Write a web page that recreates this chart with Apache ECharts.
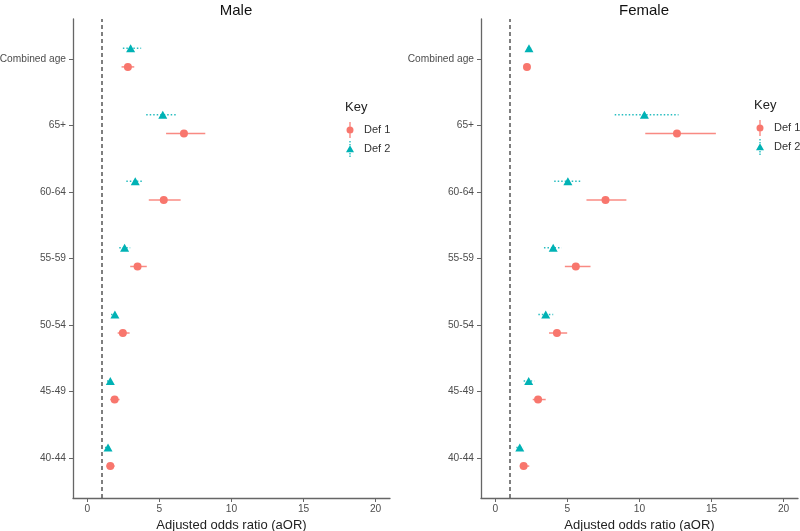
<!DOCTYPE html>
<html>
<head>
<meta charset="utf-8">
<script src="https://cdn.jsdelivr.net/npm/echarts@6/dist/echarts.min.js"></script>
<style>html,body{margin:0;padding:0;background:#fff}#c{width:800px;height:531px}</style>
</head>
<body>
<div id="c"></div>
<script>
// Categories, bottom to top
var categories = ['40-44', '45-49', '50-54', '55-59', '60-64', '65+', 'Combined age'];
var xTicks = [0, 5, 10, 15, 20];

// Male
var maleDef1 = [1.59, 1.89, 2.46, 3.48, 5.30, 6.70, 2.81];
var maleDef1Lo = [1.31, 1.59, 2.10, 2.97, 4.26, 5.46, 2.37];
var maleDef1Hi = [1.89, 2.23, 2.93, 4.12, 6.47, 8.18, 3.25];
var maleDef2 = [1.43, 1.59, 1.91, 2.58, 3.32, 5.23, 3.00];
var maleDef2Lo = [1.22, 1.36, 1.64, 2.21, 2.70, 4.08, 2.46];
var maleDef2Hi = [1.61, 1.82, 2.12, 2.97, 3.89, 6.24, 3.73];

// Female
var femaleDef1 = [1.96, 2.96, 4.27, 5.58, 7.64, 12.60, 2.19];
var femaleDef1Lo = [1.69, 2.59, 3.72, 4.82, 6.32, 10.40, 2.05];
var femaleDef1Hi = [2.35, 3.49, 4.98, 6.60, 9.09, 15.30, 2.35];
var femaleDef2 = [1.69, 2.31, 3.49, 4.01, 5.03, 10.34, 2.33];
var femaleDef2Lo = [1.45, 1.96, 2.98, 3.37, 4.08, 8.28, 2.20];
var femaleDef2Hi = [1.94, 2.70, 4.01, 4.59, 5.98, 12.71, 2.48];

var refLine = 1;

var RED = '#F8766D', TEAL = '#00B2B5';
var FONT = 'Liberation Sans, Arial, sans-serif';
var OFF1 = -0.12, OFF2 = 0.16;

function pts(vals, off) { return vals.map(function (v, i) { return [v, i + 1 + off]; }); }
function bars(lo, hi, off) { return lo.map(function (l, i) { return [l, hi[i], i + 1 + off]; }); }

function errSeries(idx, lo, hi, off, color, dashed) {
  return {
    type: 'custom', name: 'err' + idx + (dashed ? 'b' : 'a'),
    xAxisIndex: idx, yAxisIndex: idx, z: 2,
    data: bars(lo, hi, off),
    renderItem: function (params, api) {
      var a = api.coord([api.value(0), api.value(2)]);
      var b = api.coord([api.value(1), api.value(2)]);
      return {
        type: 'line',
        shape: { x1: a[0], y1: a[1], x2: b[0], y2: b[1] },
        style: { stroke: color, lineWidth: 1.5, lineDash: dashed ? [1.5, 2] : null, opacity: 0.85 }
      };
    }
  };
}

function panelSeries(idx, d1, d1lo, d1hi, d2, d2lo, d2hi) {
  return [
    errSeries(idx, d1lo, d1hi, OFF1, RED, false),
    errSeries(idx, d2lo, d2hi, OFF2, TEAL, true),
    {
      type: 'scatter', name: 'Def 1', xAxisIndex: idx, yAxisIndex: idx, z: 3,
      symbol: 'circle', symbolSize: 8, itemStyle: { color: RED, opacity: 1 },
      data: pts(d1, OFF1),
      markLine: {
        silent: true, symbol: 'none', label: { show: false },
        lineStyle: { color: '#555', type: [4, 3], width: 1.5 },
        data: [{ xAxis: refLine }]
      }
    },
    {
      type: 'scatter', name: 'Def 2', xAxisIndex: idx, yAxisIndex: idx, z: 3,
      symbol: 'triangle', symbolSize: [9, 8], itemStyle: { color: TEAL, opacity: 1 },
      data: pts(d2, OFF2)
    }
  ];
}

var TICKFS = 10.2;
function xAxis(idx) {
  return {
    type: 'value', gridIndex: idx, min: -1, max: 21,
    name: 'Adjusted odds ratio (aOR)', nameLocation: 'middle', nameGap: 20,
    nameTextStyle: { fontFamily: FONT, fontSize: 13, color: '#222' },
    splitLine: { show: false },
    axisLine: { show: true, onZero: false, lineStyle: { color: '#666', width: 1.3 } },
    axisTick: { show: true, customValues: xTicks, length: 4, lineStyle: { color: '#666' } },
    axisLabel: { customValues: xTicks, margin: 6, fontFamily: FONT, fontSize: TICKFS, color: '#4d4d4d' }
  };
}
var yVals = categories.map(function (c, i) { return i + 1; });
function yAxis(idx) {
  return {
    type: 'value', gridIndex: idx, min: 0.4, max: 7.6,
    splitLine: { show: false },
    axisLine: { show: true, onZero: false, lineStyle: { color: '#666', width: 1.3 } },
    axisTick: { show: true, customValues: yVals, length: 4, lineStyle: { color: '#666' } },
    axisLabel: {
      customValues: yVals, margin: 7, fontFamily: FONT, fontSize: TICKFS, color: '#4d4d4d',
      formatter: function (v) { return categories[Math.round(v) - 1] || ''; }
    }
  };
}

var redIcon = 'path://M3.4,0 h1.2 v4.5 h-1.2 z M3.4,11.5 h1.2 v4.5 h-1.2 z M0.5,8 a3.5,3.5 0 1,0 7,0 a3.5,3.5 0 1,0 -7,0 z';
var tealIcon = 'path://M3.4,0 h1.2 v1.5 h-1.2 z M3.4,3 h1.2 v1.2 h-1.2 z M3.4,12 h1.2 v1.5 h-1.2 z M3.4,14.5 h1.2 v1.5 h-1.2 z M4,4.3 L8,11.3 L0,11.3 z';

function legend(left, top) {
  return {
    left: left, top: top, orient: 'vertical', itemWidth: 18, itemHeight: 16, itemGap: 3,
    symbolKeepAspect: true, selectedMode: false,
    textStyle: { fontFamily: FONT, fontSize: 11, color: '#333' },
    data: [{ name: 'Def 1', icon: redIcon }, { name: 'Def 2', icon: tealIcon }]
  };
}

var chart = echarts.init(document.getElementById('c'), null, { renderer: 'canvas' });
chart.setOption({
  animation: false,
  backgroundColor: '#fff',
  title: [
    { text: 'Male', left: 231, top: -2, textAlign: 'center', textStyle: { fontFamily: FONT, fontSize: 15, fontWeight: 'normal', color: '#111' } },
    { text: 'Female', left: 639, top: -2, textAlign: 'center', textStyle: { fontFamily: FONT, fontSize: 15, fontWeight: 'normal', color: '#111' } },
    { text: 'Key', left: 340, top: 96, textStyle: { fontFamily: FONT, fontSize: 13, fontWeight: 'normal', color: '#222' } },
    { text: 'Key', left: 749, top: 94, textStyle: { fontFamily: FONT, fontSize: 13, fontWeight: 'normal', color: '#222' } }
  ],
  legend: [legend(341, 117), legend(751, 115)],
  grid: [
    { left: 73, top: 19, width: 317, bottom: 33, containLabel: false, outerBoundsMode: 'none' },
    { left: 481, top: 19, width: 317, bottom: 33, containLabel: false, outerBoundsMode: 'none' }
  ],
  xAxis: [xAxis(0), xAxis(1)],
  yAxis: [yAxis(0), yAxis(1)],
  series: [].concat(
    panelSeries(0, maleDef1, maleDef1Lo, maleDef1Hi, maleDef2, maleDef2Lo, maleDef2Hi),
    panelSeries(1, femaleDef1, femaleDef1Lo, femaleDef1Hi, femaleDef2, femaleDef2Lo, femaleDef2Hi)
  )
});
</script>
</body>
</html>
